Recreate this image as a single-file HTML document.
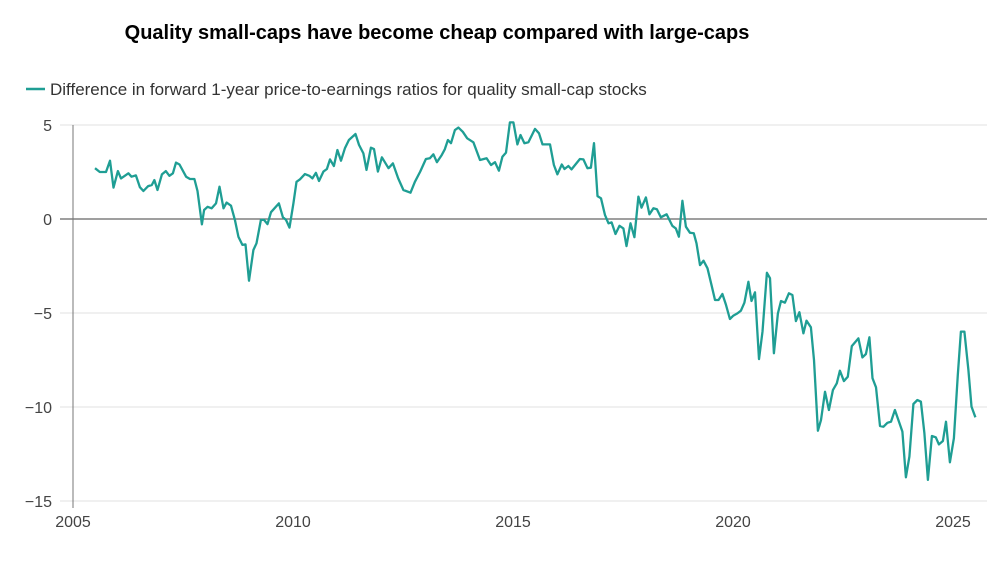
<!DOCTYPE html>
<html><head><meta charset="utf-8">
<style>
body{margin:0;background:#fff;width:1007px;height:556px;overflow:hidden;font-family:"Liberation Sans",sans-serif}
</style></head>
<body>
<svg width="1007" height="556" xmlns="http://www.w3.org/2000/svg">
<text x="437" y="39" text-anchor="middle" font-size="20" font-weight="bold" fill="#000">Quality small-caps have become cheap compared with large-caps</text>
<g>
<line x1="26" y1="89" x2="45" y2="89" stroke="#1f9e94" stroke-width="2.5"/>
<text x="50" y="95" font-size="17" fill="#333">Difference in forward 1-year price-to-earnings ratios for quality small-cap stocks</text>
</g>
<g id="grid"></g><g id="axes"></g><g id="series"></g>
</svg>
<script>
const yTicks=[5,0,-5,-10,-15];
const xTicks=[2005,2010,2015,2020,2025];
const dates=[2005.5,2005.61,2005.75,2005.84,2005.92,2006.02,2006.09,2006.26,2006.33,2006.43,2006.52,2006.6,2006.71,2006.79,2006.85,2006.92,2007.02,2007.11,2007.19,2007.27,2007.34,2007.42,2007.57,2007.66,2007.76,2007.83,2007.93,2007.98,2008.06,2008.15,2008.25,2008.33,2008.42,2008.49,2008.59,2008.68,2008.76,2008.85,2008.92,2009.0,2009.1,2009.17,2009.27,2009.34,2009.42,2009.5,2009.68,2009.77,2009.84,2009.92,2010.01,2010.08,2010.16,2010.27,2010.37,2010.44,2010.52,2010.59,2010.69,2010.77,2010.84,2010.93,2011.01,2011.09,2011.18,2011.27,2011.42,2011.5,2011.6,2011.67,2011.77,2011.84,2011.93,2012.02,2012.17,2012.27,2012.39,2012.51,2012.67,2012.77,2012.89,2013.02,2013.11,2013.19,2013.27,2013.38,2013.45,2013.52,2013.59,2013.68,2013.76,2013.86,2013.96,2014.1,2014.25,2014.4,2014.5,2014.59,2014.68,2014.76,2014.84,2014.93,2015.01,2015.1,2015.17,2015.26,2015.35,2015.5,2015.59,2015.67,2015.84,2015.93,2016.01,2016.11,2016.17,2016.26,2016.33,2016.52,2016.6,2016.69,2016.77,2016.84,2016.92,2017.0,2017.09,2017.17,2017.24,2017.33,2017.42,2017.51,2017.58,2017.67,2017.76,2017.85,2017.92,2018.02,2018.1,2018.19,2018.27,2018.36,2018.49,2018.62,2018.7,2018.77,2018.85,2018.93,2019.02,2019.11,2019.17,2019.25,2019.33,2019.42,2019.52,2019.59,2019.67,2019.76,2019.84,2019.93,2020.01,2020.1,2020.18,2020.26,2020.35,2020.42,2020.5,2020.59,2020.67,2020.77,2020.84,2020.93,2021.02,2021.09,2021.18,2021.27,2021.35,2021.43,2021.51,2021.6,2021.67,2021.77,2021.84,2021.93,2022.0,2022.09,2022.18,2022.27,2022.36,2022.43,2022.52,2022.61,2022.7,2022.85,2022.94,2023.02,2023.1,2023.17,2023.25,2023.34,2023.42,2023.51,2023.59,2023.68,2023.85,2023.93,2024.01,2024.1,2024.19,2024.27,2024.35,2024.43,2024.52,2024.61,2024.68,2024.77,2024.84,2024.93,2025.02,2025.11,2025.18,2025.26,2025.35,2025.42,2025.51];
const values=[2.7,2.5,2.5,3.1,1.67,2.55,2.16,2.43,2.25,2.32,1.69,1.49,1.75,1.81,2.07,1.54,2.37,2.55,2.3,2.43,3.0,2.9,2.25,2.13,2.13,1.49,-0.28,0.48,0.65,0.57,0.83,1.72,0.57,0.87,0.71,-0.05,-0.94,-1.38,-1.35,-3.28,-1.65,-1.29,-0.05,-0.05,-0.27,0.36,0.83,0.09,-0.05,-0.46,0.83,1.98,2.11,2.39,2.3,2.16,2.46,2.02,2.52,2.66,3.17,2.82,3.67,3.1,3.76,4.2,4.52,3.94,3.49,2.61,3.79,3.72,2.52,3.28,2.7,2.96,2.16,1.54,1.4,1.98,2.52,3.19,3.23,3.44,3.02,3.4,3.71,4.2,4.03,4.73,4.86,4.64,4.29,4.08,3.14,3.23,2.87,3.02,2.57,3.31,3.53,5.14,5.14,3.97,4.47,4.03,4.08,4.79,4.56,3.97,3.97,2.87,2.38,2.9,2.66,2.82,2.64,3.19,3.17,2.7,2.73,4.03,1.22,1.1,0.21,-0.23,-0.18,-0.8,-0.36,-0.5,-1.44,-0.23,-0.97,1.19,0.6,1.15,0.25,0.57,0.52,0.09,0.25,-0.36,-0.5,-0.94,0.97,-0.41,-0.73,-0.76,-1.29,-2.45,-2.22,-2.62,-3.6,-4.31,-4.31,-3.99,-4.57,-5.32,-5.14,-5.02,-4.88,-4.45,-3.34,-4.36,-3.9,-7.45,-5.99,-2.86,-3.15,-7.14,-5.02,-4.36,-4.45,-3.95,-4.04,-5.43,-4.96,-6.08,-5.41,-5.76,-7.5,-11.26,-10.69,-9.19,-10.16,-9.1,-8.74,-8.07,-8.62,-8.39,-6.76,-6.35,-7.36,-7.18,-6.29,-8.47,-8.95,-11.01,-11.05,-10.84,-10.78,-10.16,-11.31,-13.74,-12.64,-9.84,-9.63,-9.72,-11.4,-13.88,-11.54,-11.61,-11.99,-11.81,-10.78,-12.94,-11.66,-8.3,-5.99,-5.99,-8.03,-9.98,-10.55];
const X=t=>73+(t-2005)*44;
const Y=v=>219-v*18.8;
const NS='http://www.w3.org/2000/svg';
const grid=document.getElementById('grid'),axes=document.getElementById('axes'),series=document.getElementById('series');
yTicks.forEach(v=>{
  const l=document.createElementNS(NS,'line');
  l.setAttribute('x1',60);l.setAttribute('x2',987);l.setAttribute('y1',Y(v));l.setAttribute('y2',Y(v));
  l.setAttribute('stroke',v===0?'#666':'#e6e6e6');l.setAttribute('stroke-width',1.3);
  
  
  grid.appendChild(l);
  const t=document.createElementNS(NS,'text');
  t.setAttribute('x',52);t.setAttribute('y',Y(v)+6);t.setAttribute('text-anchor','end');
  t.setAttribute('font-size','16');t.setAttribute('fill','#444');
  t.textContent=v<0?'\u2212'+Math.abs(v):String(v);
  
  
  axes.appendChild(t);
});
const ax=document.createElementNS(NS,'line');
ax.setAttribute('x1',73);ax.setAttribute('x2',73);ax.setAttribute('y1',125);ax.setAttribute('y2',508);
ax.setAttribute('stroke','#777');ax.setAttribute('stroke-width',1);


axes.appendChild(ax);
xTicks.forEach(yr=>{
  const t=document.createElementNS(NS,'text');
  t.setAttribute('x',X(yr));t.setAttribute('y',527);t.setAttribute('text-anchor','middle');
  t.setAttribute('font-size','16');t.setAttribute('fill','#444');
  t.textContent=String(yr);
  
  
  axes.appendChild(t);
});
const p=document.createElementNS(NS,'polyline');
p.setAttribute('points',dates.map((d,i)=>X(d).toFixed(1)+','+Y(values[i]).toFixed(1)).join(' '));
p.setAttribute('fill','none');p.setAttribute('stroke','#1f9e94');p.setAttribute('stroke-width','2.3');p.setAttribute('stroke-linejoin','round');


series.appendChild(p);
</script>
</body></html>
